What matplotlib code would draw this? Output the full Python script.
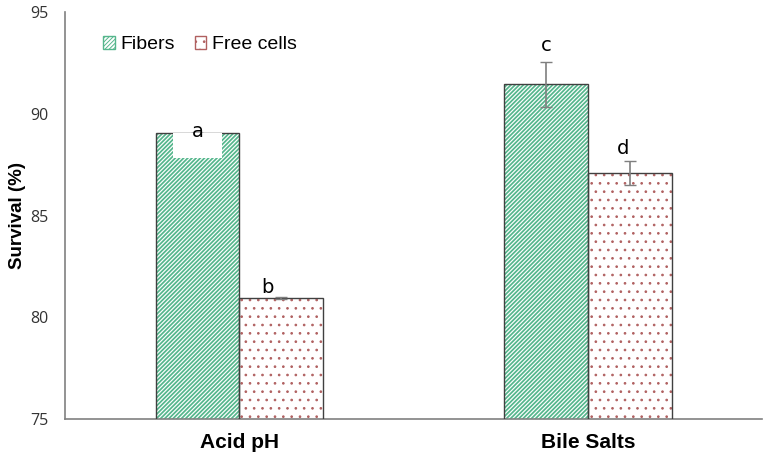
import matplotlib.pyplot as plt
import matplotlib as mpl
from matplotlib.patches import Rectangle
import numpy as np

# data
categories = ['Acid pH', 'Bile Salts']
fibers = [89.05, 91.45]
fibers_err = [0.0, 1.1]
free_cells = [80.95, 87.1]
free_err = [0.05, 0.6]
letters_fibers = ['a', 'c']
letters_free = ['b', 'd']

fig = plt.figure(figsize=(7.64, 4.59), dpi=100)
ax = fig.add_axes([0.085, 0.087, 0.913, 0.887])

x = np.arange(len(categories))
w = 0.24

mpl.rcParams['hatch.linewidth'] = 1.25
b1 = ax.bar(x - w / 2, fibers, w, facecolor='white', edgecolor='#55b68c',
            hatch='/' * 8, linewidth=0, label='Fibers', zorder=2)
mpl.rcParams['hatch.linewidth'] = 0.7
b2 = ax.bar(x + w / 2, free_cells, w, facecolor='white', edgecolor='#b06060',
            hatch='..', linewidth=0, label='Free cells', zorder=2)
# dark outlines
ax.bar(x - w / 2, fibers, w, facecolor='none', edgecolor='#404040', linewidth=1.0, zorder=3)
ax.bar(x + w / 2, free_cells, w, facecolor='none', edgecolor='#404040', linewidth=1.0, zorder=3)

ax.errorbar(x - w / 2, fibers, yerr=fibers_err, fmt='none', ecolor='#7f7f7f',
            elinewidth=1.2, capsize=4, zorder=4)
ax.errorbar(x + w / 2, free_cells, yerr=free_err, fmt='none', ecolor='#7f7f7f',
            elinewidth=1.2, capsize=4, zorder=4)

# white box behind letter "a"
ax.add_patch(Rectangle((x[0] - w / 2 - 0.07, fibers[0] - 1.22), 0.14, 1.22,
                       facecolor='white', edgecolor='none', zorder=4))
ax.text(x[0] - w / 2, fibers[0] + 0.1, letters_fibers[0], ha='center', va='center',
        fontsize=14, zorder=5)
ax.text(x[0] + w / 2 - 0.04, free_cells[0] + 0.5, letters_free[0], ha='center',
        va='center', fontsize=14, zorder=5)
ax.text(x[1] - w / 2, fibers[1] + 1.9, letters_fibers[1], ha='center', va='center',
        fontsize=14, zorder=5)
ax.text(x[1] + w / 2 - 0.02, free_cells[1] + 1.2, letters_free[1], ha='center',
        va='center', fontsize=14, zorder=5)

ax.set_ylim(75, 95)
ax.set_xlim(-0.5, 1.5)
ax.set_yticks([75, 80, 85, 90, 95])
ax.set_xticks(x)
ax.set_xticklabels(categories, fontsize=15, fontweight='bold', family='Liberation Sans')
for lab in ax.get_yticklabels():
    lab.set_family('Open Sans')
    lab.set_fontsize(11.5)
    lab.set_color('#333333')
ax.tick_params(axis='both', length=0)
ax.tick_params(axis='y', pad=12)
ax.tick_params(axis='x', pad=10)

ax.set_ylabel('Survival (%)', fontsize=13.5, fontweight='bold', family='Liberation Sans',
              labelpad=3)

for s in ['top', 'right']:
    ax.spines[s].set_visible(False)
for s in ['left', 'bottom']:
    ax.spines[s].set_color('#808080')
    ax.spines[s].set_linewidth(1.2)

leg = ax.legend(handles=[b1, b2], loc='upper left', bbox_to_anchor=(0.03, 0.983), ncol=2,
                frameon=False, handlelength=0.6, handleheight=0.6,
                handletextpad=0.3, columnspacing=1.0,
                prop={'family': 'Liberation Sans', 'size': 14})
for h in leg.legend_handles:
    h.set_linewidth(1.0)

fig.savefig('out.png', dpi=100)
